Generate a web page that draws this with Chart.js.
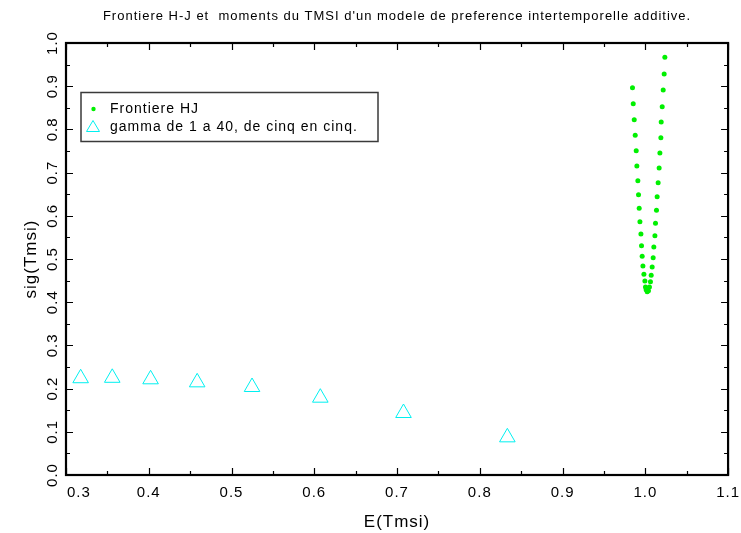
<!DOCTYPE html>
<html lang="fr">
<head>
<meta charset="UTF-8">
<title>Frontiere H-J</title>
<script src="https://cdn.jsdelivr.net/npm/chart.js"></script>
<style>
  body { margin: 0; padding: 0; background: #fff; }
  canvas { display: block; }
</style>
</head>
<body>
<canvas id="chart" width="741" height="533"></canvas>
<script>
// frontiere HJ (branche gauche de haut en bas, puis branche droite de bas en haut)
const hjE = [0.9845, 0.9854, 0.9866, 0.9878, 0.9890, 0.9898, 0.9910, 0.9918, 0.9926, 0.9935,
             0.9947, 0.9954, 0.9962, 0.9971, 0.9983, 0.9995, 1.0002, 1.0010, 1.0023,
             1.0038, 1.0050, 1.0062, 1.0071, 1.0083, 1.0095, 1.0103, 1.0116, 1.0123, 1.0135,
             1.0143, 1.0155, 1.0167, 1.0176, 1.0188, 1.0192, 1.0204, 1.0216, 1.0228, 1.0236];
const hjSig = [0.8965, 0.8595, 0.8225, 0.7863, 0.7507, 0.7153, 0.6813, 0.6488, 0.6174, 0.5864,
               0.5579, 0.5308, 0.5063, 0.4838, 0.4646, 0.4491, 0.4352, 0.4290, 0.4243,
               0.4266, 0.4352, 0.4475, 0.4623, 0.4815, 0.5030, 0.5278, 0.5539, 0.5826, 0.6127,
               0.6442, 0.6766, 0.7106, 0.7454, 0.7808, 0.8171, 0.8525, 0.8912, 0.9282, 0.9669];

// moments du TMSI, gamma = 1, 5, 10, ... 40
const gammaE = [0.3177, 0.3559, 0.4022, 0.4585, 0.5248, 0.6073, 0.7078, 0.8333];
const gammaSig = [0.224, 0.225, 0.2215, 0.2145, 0.2037, 0.179, 0.1435, 0.0872];

const xTicks = [0.3, 0.4, 0.5, 0.6, 0.7, 0.8, 0.9, 1.0, 1.1];
const yTicks = [0.0, 0.1, 0.2, 0.3, 0.4, 0.5, 0.6, 0.7, 0.8, 0.9, 1.0];
const minorStep = 0.05;

const green = '#00f000';
const cyan = '#00f0f0';
const font = "'Liberation Sans', Arial, sans-serif";

function toPoints(xs, ys) {
    return xs.map((x, i) => ({ x: x, y: ys[i] }));
}

// espacement des lettres plus large, comme la police de l'original
const spacing = {
    id: 'spacing',
    beforeLayout(chart) { chart.ctx.letterSpacing = '1px'; },
    beforeDraw(chart) { chart.ctx.letterSpacing = '1px'; }
};

// cadre + graduations vers l'interieur sur les 4 cotes
const frame = {
    id: 'frame',
    afterDraw(chart) {
        const ctx = chart.ctx;
        const a = chart.chartArea;
        const xs = chart.scales.x, ys = chart.scales.y;
        ctx.save();
        ctx.strokeStyle = '#000';
        ctx.lineWidth = 1.2;
        ctx.beginPath();
        for (let v = xs.min; v <= xs.max + 1e-9; v += minorStep) {
            const major = Math.abs(v * 10 - Math.round(v * 10)) < 1e-6;
            const len = major ? 7 : 4;
            const px = Math.round(xs.getPixelForValue(v)) + 0.5;
            ctx.moveTo(px, a.bottom); ctx.lineTo(px, a.bottom - len);
            ctx.moveTo(px, a.top); ctx.lineTo(px, a.top + len);
        }
        for (let v = ys.min; v <= ys.max + 1e-9; v += minorStep) {
            const major = Math.abs(v * 10 - Math.round(v * 10)) < 1e-6;
            const len = major ? 7 : 4;
            const py = Math.round(ys.getPixelForValue(v)) + 0.5;
            ctx.moveTo(a.left, py); ctx.lineTo(a.left + len, py);
            ctx.moveTo(a.right, py); ctx.lineTo(a.right - len, py);
        }
        ctx.stroke();
        ctx.lineWidth = 2.2;
        ctx.strokeRect(a.left, a.top, a.right - a.left, a.bottom - a.top);
        ctx.restore();
    }
};

// legende encadree dans la zone du graphique
const boxLegend = {
    id: 'boxLegend',
    afterDraw(chart) {
        const ctx = chart.ctx;
        const ds = chart.data.datasets;
        ctx.save();
        ctx.strokeStyle = '#3a3a3a';
        ctx.lineWidth = 1.5;
        ctx.strokeRect(81, 92.5, 297, 49);
        ctx.font = '14px ' + font;
        ctx.letterSpacing = '1px';
        ctx.fillStyle = '#000';
        ctx.textBaseline = 'middle';
        ctx.fillText(ds[0].label, 110, 109.5);
        ctx.fillText(ds[1].label, 110, 127);
        ctx.fillStyle = ds[0].pointBackgroundColor;
        ctx.beginPath();
        ctx.arc(93.5, 109, 2.2, 0, Math.PI * 2);
        ctx.fill();
        ctx.strokeStyle = ds[1].pointBorderColor;
        ctx.lineWidth = 1;
        ctx.beginPath();
        ctx.moveTo(93, 120.5);
        ctx.lineTo(99.5, 131.5);
        ctx.lineTo(86.5, 131.5);
        ctx.closePath();
        ctx.stroke();
        ctx.restore();
    }
};

new Chart(document.getElementById('chart'), {
    type: 'scatter',
    data: {
        datasets: [{
            label: 'Frontiere HJ',
            data: toPoints(hjE, hjSig),
            pointStyle: 'circle',
            pointRadius: 2.5,
            pointBorderWidth: 0,
            pointBackgroundColor: green,
            pointBorderColor: green
        }, {
            label: 'gamma de 1 a 40, de cinq en cinq.',
            data: toPoints(gammaE, gammaSig),
            pointStyle: 'triangle',
            pointRadius: 9,
            pointBorderWidth: 1,
            pointBackgroundColor: 'rgba(0,0,0,0)',
            pointBorderColor: cyan
        }]
    },
    options: {
        responsive: false,
        animation: false,
        layout: { padding: { left: 0, right: 4, top: 0, bottom: 0 } },
        scales: {
            x: {
                type: 'linear',
                min: 0.3,
                max: 1.1,
                afterBuildTicks: s => { s.ticks = xTicks.map(v => ({ value: v })); },
                afterFit: s => { s.height = 58; },
                grid: { display: false },
                border: { display: false },
                ticks: {
                    color: '#000',
                    font: { family: font, size: 15 },
                    padding: 1,
                    maxRotation: 0,
                    // le premier libelle est decale a droite du coin, comme dans l'original
                    callback: (v, i) => (i === 0 ? '     ' : '') + v.toFixed(1)
                },
                title: {
                    display: true,
                    text: 'E(Tmsi)',
                    color: '#000',
                    font: { family: font, size: 17 },
                    padding: { top: 0, bottom: 0 }
                }
            },
            y: {
                type: 'linear',
                min: 0,
                max: 1,
                afterBuildTicks: s => { s.ticks = yTicks.map(v => ({ value: v })); },
                afterFit: s => { s.width = 66; },
                grid: { display: false },
                border: { display: false },
                ticks: {
                    color: '#000',
                    font: { family: font, size: 15 },
                    padding: -7,
                    minRotation: 90,
                    maxRotation: 90,
                    crossAlign: 'center',
                    callback: v => v.toFixed(1)
                },
                title: {
                    display: true,
                    text: 'sig(Tmsi)',
                    color: '#000',
                    font: { family: font, size: 17 },
                    padding: { top: 21, bottom: 0 }
                }
            }
        },
        plugins: {
            legend: { display: false },
            tooltip: { enabled: false },
            title: {
                display: true,
                fullSize: false,
                text: "Frontiere H-J et  moments du TMSI d'un modele de preference intertemporelle additive.",
                color: '#000',
                font: { family: font, size: 13, weight: 'normal' },
                padding: { top: 9, bottom: 18.4 }
            }
        }
    },
    plugins: [spacing, frame, boxLegend]
});
</script>
</body>
</html>
